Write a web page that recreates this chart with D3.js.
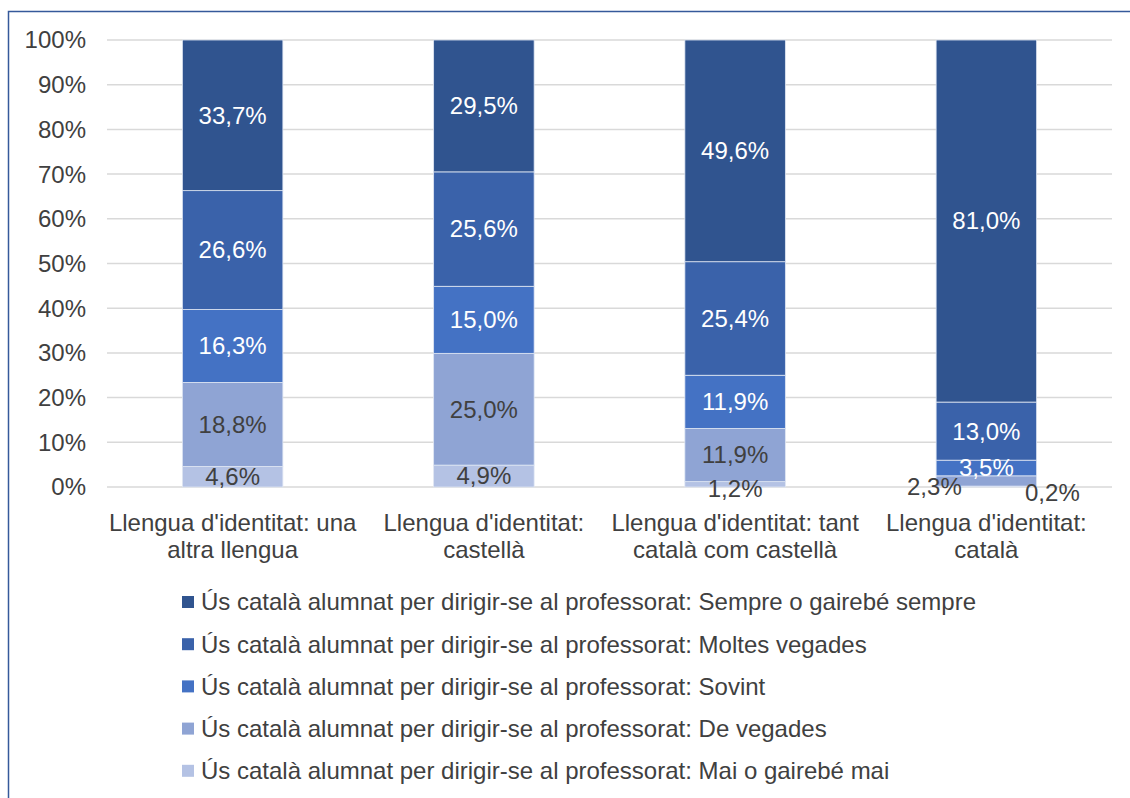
<!DOCTYPE html>
<html>
<head>
<meta charset="utf-8">
<script src="https://cdn.jsdelivr.net/npm/d3@7"></script>
<style>
  body { margin: 0; background: #fff; }
  svg text { font-family: "Liberation Sans", Arial, sans-serif; }
</style>
</head>
<body>
<svg id="chart" width="1130" height="798"></svg>
<script>
// categories (x axis, two lines each)
const categories = [
  ["Llengua d'identitat: una", "altra llengua"],
  ["Llengua d'identitat:", "castellà"],
  ["Llengua d'identitat: tant", "català com castellà"],
  ["Llengua d'identitat:", "català"]
];

// series, bottom to top
const seriesNames = [
  "Ús català alumnat per dirigir-se al professorat: Mai o gairebé mai",
  "Ús català alumnat per dirigir-se al professorat: De vegades",
  "Ús català alumnat per dirigir-se al professorat: Sovint",
  "Ús català alumnat per dirigir-se al professorat: Moltes vegades",
  "Ús català alumnat per dirigir-se al professorat: Sempre o gairebé sempre"
];
const maiValues      = [4.6, 4.9, 1.2, 0.2];
const deVegadesValues = [18.8, 25.0, 11.9, 2.3];
const sovintValues   = [16.3, 15.0, 11.9, 3.5];
const moltesValues   = [26.6, 25.6, 25.4, 13.0];
const sempreValues   = [33.7, 29.5, 49.6, 81.0];
const seriesValues = [maiValues, deVegadesValues, sovintValues, moltesValues, sempreValues];

const yTicks = [0, 10, 20, 30, 40, 50, 60, 70, 80, 90, 100];

const colors = ["#b4c2e4", "#8fa4d4", "#4472c4", "#3a62aa", "#30548f"];
const labelColors = ["#404040", "#404040", "#fff", "#fff", "#fff"];

const svg = d3.select("#chart");
const fontSize = 24;

// frame (thin blue border, left and top visible)
svg.append("path")
  .attr("d", "M8.5,798 L8.5,11.5 L1130,11.5")
  .attr("fill", "none")
  .attr("stroke", "#35599a")
  .attr("stroke-width", 1.5);

const x = d3.scaleBand()
  .domain(d3.range(categories.length))
  .range([107, 1112])
  .paddingInner(0.6)
  .paddingOuter(0.3);

const y = d3.scaleLinear().domain([0, 100]).range([487, 40]);

// gridlines
svg.append("g").selectAll("line")
  .data(yTicks)
  .enter().append("line")
  .attr("x1", 107).attr("x2", 1112)
  .attr("y1", d => y(d)).attr("y2", d => y(d))
  .attr("stroke", "#d9d9d9")
  .attr("stroke-width", 1.5);

// y tick labels
svg.append("g").selectAll("text")
  .data(yTicks)
  .enter().append("text")
  .attr("x", 86)
  .attr("y", d => y(d))
  .attr("dy", "0.35em")
  .attr("text-anchor", "end")
  .attr("font-size", fontSize)
  .attr("fill", "#404040")
  .text(d => d + "%");

// stack the data
const rows = categories.map((c, i) => {
  const r = { i: i };
  seriesValues.forEach((s, k) => { r["s" + k] = s[i]; });
  return r;
});
const stack = d3.stack().keys(seriesValues.map((s, k) => "s" + k));
const stacked = stack(rows);

const groups = svg.append("g").selectAll("g")
  .data(stacked)
  .enter().append("g")
  .attr("fill", (d, k) => colors[k]);

groups.selectAll("rect")
  .data(d => d)
  .enter().append("rect")
  .attr("x", d => x(d.data.i))
  .attr("y", d => y(d[1]))
  .attr("width", x.bandwidth())
  .attr("height", d => y(d[0]) - y(d[1]))
  .attr("stroke", "#dfe6f3")
  .attr("stroke-width", 0.8);

// label offsets (dx, dy) where Excel moved small labels out of the way
const labelOffsets = {
  "0-2": [0, 4],
  "0-3": [66, 6],
  "1-3": [-52, 6]
};

stacked.forEach((layer, k) => {
  layer.forEach(d => {
    const i = d.data.i;
    const off = labelOffsets[k + "-" + i] || [0, 0];
    const outside = (k + "-" + i) === "0-3" || (k + "-" + i) === "1-3";
    svg.append("text")
      .attr("x", x(i) + x.bandwidth() / 2 + off[0])
      .attr("y", y((d[0] + d[1]) / 2) + off[1])
      .attr("dy", "0.35em")
      .attr("text-anchor", "middle")
      .attr("font-size", fontSize)
      .attr("fill", outside ? "#404040" : labelColors[k])
      .text(d3.format(".1f")(seriesValues[k][i]).replace(".", ",") + "%");
  });
});

// x axis labels
const xl = svg.append("g").selectAll("text")
  .data(categories)
  .enter().append("text")
  .attr("text-anchor", "middle")
  .attr("font-size", fontSize)
  .attr("fill", "#404040");
xl.each(function(d, i) {
  const t = d3.select(this);
  d.forEach((line, j) => {
    t.append("tspan")
      .attr("x", x(i) + x.bandwidth() / 2)
      .attr("y", 523 + j * 27)
      .attr("dy", "0.35em")
      .text(line);
  });
});

// legend, top item = top series
const legendItems = seriesNames.map((n, k) => ({ name: n, color: colors[k] })).reverse();
const legend = svg.append("g").selectAll("g")
  .data(legendItems)
  .enter().append("g")
  .attr("transform", (d, j) => "translate(182," + (602 + j * 42.2) + ")");
legend.append("rect")
  .attr("x", 0).attr("y", -6)
  .attr("width", 12).attr("height", 12)
  .attr("fill", d => d.color);
legend.append("text")
  .attr("x", 19)
  .attr("dy", "0.35em")
  .attr("font-size", fontSize)
  .attr("fill", "#404040")
  .text(d => d.name);
</script>
</body>
</html>
